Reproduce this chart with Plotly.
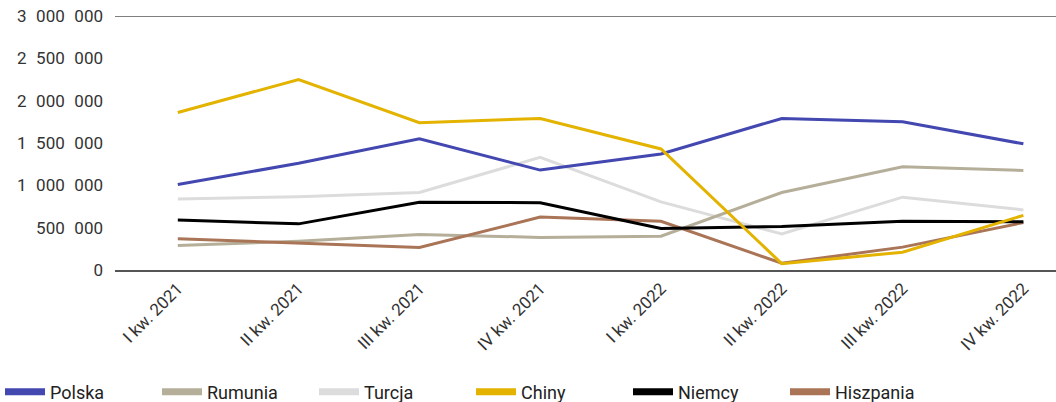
import plotly.graph_objects as go

quarters = ["I kw. 2021", "II kw. 2021", "III kw. 2021", "IV kw. 2021",
            "I kw. 2022", "II kw. 2022", "III kw. 2022", "IV kw. 2022"]

polska = [1010000, 1260000, 1550000, 1180000, 1370000, 1790000, 1750000, 1490000]
rumunia = [290000, 340000, 420000, 385000, 400000, 915000, 1220000, 1175000]
turcja = [840000, 865000, 915000, 1330000, 805000, 425000, 860000, 710000]
chiny = [1860000, 2250000, 1740000, 1790000, 1430000, 75000, 210000, 645000]
niemcy = [590000, 545000, 800000, 795000, 490000, 515000, 575000, 570000]
hiszpania = [370000, 320000, 265000, 625000, 575000, 80000, 270000, 560000]

y_tickvals = [0, 500000, 1000000, 1500000, 2000000, 2500000, 3000000]
y_ticktext = ["0", "500\u2007000", "1\u2007000\u2007000", "1\u2007500\u2007000",
              "2\u2007000\u2007000", "2\u2007500\u2007000", "3\u2007000\u2007000"]

series = [
    ("Polska", polska, "#4347B0"),
    ("Rumunia", rumunia, "#B5AE99"),
    ("Turcja", turcja, "#DCDCDC"),
    ("Chiny", chiny, "#E3B300"),
    ("Niemcy", niemcy, "#000000"),
    ("Hiszpania", hiszpania, "#AA7457"),
]
draw_order = ["Turcja", "Rumunia", "Polska", "Hiszpania", "Niemcy", "Chiny"]

fig = go.Figure()
lookup = {n: (v, c) for n, v, c in series}
for name in draw_order:
    vals, col = lookup[name]
    fig.add_trace(go.Scatter(x=quarters, y=vals, mode="lines", name=name,
                             line=dict(color=col, width=3), showlegend=False))
# legend entries
for name, vals, col in series:
    fig.add_trace(go.Scatter(x=[None], y=[None], mode="lines", name=name,
                             line=dict(color=col, width=7), showlegend=True))

fig.update_layout(
    width=1056, height=402,
    margin=dict(l=115, r=0, t=16, b=132),
    paper_bgcolor="white", plot_bgcolor="white",
    font=dict(family="Roboto, Noto Sans, sans-serif", size=17, color="#333333"),
    showlegend=True,
    legend=dict(orientation="h", xref="container", yref="container",
                x=0, xanchor="left", y=0.025, yanchor="middle",
                font=dict(size=18, color="#222222"), entrywidth=102,
                traceorder="normal", itemwidth=40),
    xaxis=dict(range=[-0.52, 7.27], showgrid=False, zeroline=False,
               showline=True, linecolor="#555555", linewidth=2, automargin=False,
               tickangle=-45, ticks="", tickfont=dict(size=17, color="#333333")),
    yaxis=dict(range=[0, 3000000], tickvals=y_tickvals, ticktext=y_ticktext,
               showgrid=False, zeroline=False, showline=False, ticks="",
               automargin=False, ticklabeloverflow="allow",
               ticklabelstandoff=11, tickfont=dict(size=17, color="#333333")),
    shapes=[dict(type="line", xref="paper", yref="y", x0=0, x1=1,
                 y0=3000000, y1=3000000, line=dict(color="#000000", width=1))],
)

fig.write_html("out.html", config={"displayModeBar": False},
               post_script="document.body.style.margin='0px';")
